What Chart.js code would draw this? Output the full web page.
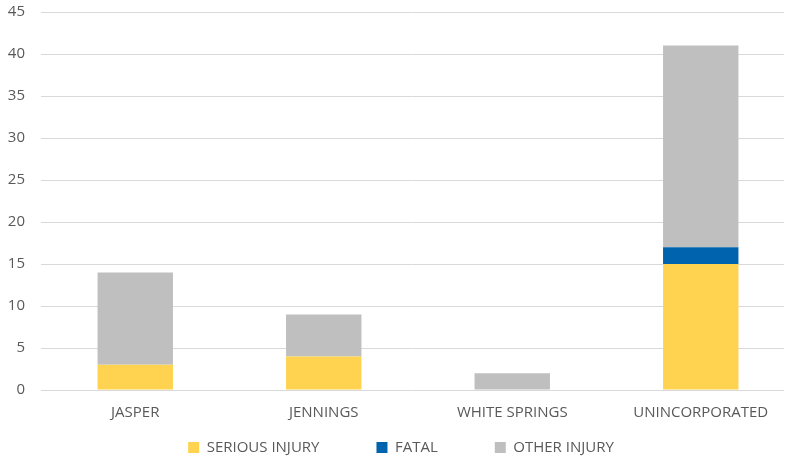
<!DOCTYPE html>
<html>
<head>
<meta charset="utf-8">
<script src="https://cdn.jsdelivr.net/npm/chart.js@4/dist/chart.umd.min.js"></script>
<style>
  html, body { margin: 0; padding: 0; background: #fff; }
  #wrap { width: 788px; height: 460px; position: relative; }
</style>
</head>
<body>
<div id="wrap"><canvas id="injury-chart"></canvas></div>
<script>
let categories = ['JASPER', 'JENNINGS', 'WHITE SPRINGS', 'UNINCORPORATED'];
let seriousInjury = [3, 4, 0, 15];
let fatal = [0, 0, 0, 2];
let otherInjury = [11, 5, 2, 24];

let fontFamily = "'Open Sans', 'Liberation Sans', sans-serif";
let legendGap = 57;

let chartData = {
    labels: categories,
    datasets: [
        {
            label: 'SERIOUS INJURY',
            data: seriousInjury,
            backgroundColor: '#FFD34F'
        },
        {
            label: 'FATAL',
            data: fatal,
            backgroundColor: '#0063AE'
        },
        {
            label: 'OTHER INJURY',
            data: otherInjury,
            backgroundColor: '#BFBFBF'
        }
    ]
};

// legend uses one padding value for both gaps, so keep its box short
// and pull the drawing up to where the reference has it (no clip)
let legendFit = {
    id: 'legendFit',
    beforeInit: function (chart) {
        let legend = chart.legend;
        let origFit = legend.fit;
        legend.fit = function () {
            origFit.call(this);
            this.height = 40;
        };
        legend.draw = function () {
            let ctx = this.ctx;
            ctx.save();
            ctx.translate(9, 20 - legendGap);
            this._draw();
            ctx.restore();
        };
    }
};

// category band in the reference runs a bit past the gridlines on the right
let widenCategories = {
    id: 'widenCategories',
    afterLayout: function (chart) {
        let x = chart.scales.x;
        x.right = 795;
        x.width = x.right - x.left;
        x.configure();
    }
};

let config = {
    type: 'bar',
    data: chartData,
    options: {
        responsive: true,
        maintainAspectRatio: false,
        animation: false,
        layout: {
            padding: { top: 0, right: 4, left: 0, bottom: 0 }
        },
        datasets: {
            bar: {
                categoryPercentage: 0.4,
                barPercentage: 1.0
            }
        },
        scales: {
            x: {
                stacked: true,
                grid: { display: false, drawTicks: false },
                border: { display: false },
                ticks: {
                    color: '#595959',
                    font: { family: fontFamily, size: 15 },
                    padding: 14
                },
                afterFit: function (scale) { scale.height = 30; }
            },
            y: {
                stacked: true,
                min: 0,
                max: 45,
                grid: { color: '#D9D9D9', lineWidth: 1, drawTicks: false },
                border: { display: false },
                ticks: {
                    stepSize: 5,
                    color: '#595959',
                    font: { family: fontFamily, size: 15 },
                    padding: 16
                },
                afterFit: function (scale) {
                    scale.width = 41;
                    scale.paddingTop = 12;
                    scale.paddingBottom = 12;
                }
            }
        },
        plugins: {
            legend: {
                position: 'bottom',
                labels: {
                    boxWidth: 11,
                    boxHeight: 11,
                    padding: legendGap,
                    color: '#595959',
                    font: { family: fontFamily, size: 15 }
                }
            },
            tooltip: { enabled: false }
        }
    },
    plugins: [legendFit, widenCategories]
};

let chart = new Chart(document.getElementById('injury-chart').getContext('2d'), config);
</script>
</body>
</html>
